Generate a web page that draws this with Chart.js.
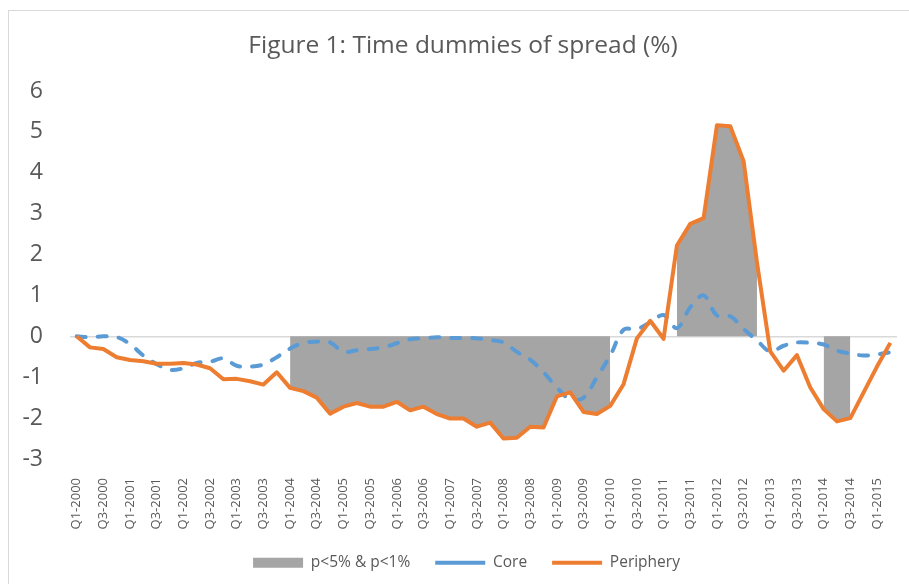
<!DOCTYPE html>
<html>
<head>
<meta charset="utf-8">
<title>Figure 1: Time dummies of spread (%)</title>
<script src="https://cdn.jsdelivr.net/npm/chart.js@4.4.1/dist/chart.umd.min.js"></script>
<style>
  html, body { margin: 0; padding: 0; background: #fff; overflow: hidden; }
  #wrap { position: relative; width: 909px; height: 584px; }
  #frame { position: absolute; left: 8px; top: 10px; width: 1000px; height: 1000px;
           border-left: 1px solid #d9d9d9; border-top: 1px solid #d9d9d9; pointer-events: none; }
</style>
</head>
<body>
<div id="wrap">
  <canvas id="chartSpread" width="909" height="584"></canvas>
  <div id="frame"></div>
</div>
<script>
// quarters Q1-2000 .. Q2-2015
const quarters = [
  'Q1-2000','Q2-2000','Q3-2000','Q4-2000','Q1-2001','Q2-2001','Q3-2001','Q4-2001',
  'Q1-2002','Q2-2002','Q3-2002','Q4-2002','Q1-2003','Q2-2003','Q3-2003','Q4-2003',
  'Q1-2004','Q2-2004','Q3-2004','Q4-2004','Q1-2005','Q2-2005','Q3-2005','Q4-2005',
  'Q1-2006','Q2-2006','Q3-2006','Q4-2006','Q1-2007','Q2-2007','Q3-2007','Q4-2007',
  'Q1-2008','Q2-2008','Q3-2008','Q4-2008','Q1-2009','Q2-2009','Q3-2009','Q4-2009',
  'Q1-2010','Q2-2010','Q3-2010','Q4-2010','Q1-2011','Q2-2011','Q3-2011','Q4-2011',
  'Q1-2012','Q2-2012','Q3-2012','Q4-2012','Q1-2013','Q2-2013','Q3-2013','Q4-2013',
  'Q1-2014','Q2-2014','Q3-2014','Q4-2014','Q1-2015','Q2-2015'
];

const core = [
  0, -0.02, 0, -0.02, -0.19, -0.47, -0.68, -0.82,
  -0.78, -0.65, -0.62, -0.54, -0.72, -0.74, -0.69, -0.51,
  -0.30, -0.16, -0.13, -0.15, -0.38, -0.34, -0.31, -0.27,
  -0.17, -0.07, -0.05, -0.02, -0.04, -0.04, -0.05, -0.09,
  -0.15, -0.38, -0.57, -0.88, -1.25, -1.54, -1.50, -1.00,
  -0.47, 0.16, 0.18, 0.34, 0.52, 0.20, 0.71, 1.00,
  0.51, 0.49, 0.18, -0.10, -0.37, -0.23, -0.15, -0.16,
  -0.20, -0.35, -0.42, -0.47, -0.44, -0.39
];

const periphery = [
  0, -0.27, -0.31, -0.51, -0.58, -0.61, -0.67, -0.67,
  -0.65, -0.69, -0.78, -1.05, -1.04, -1.10, -1.18, -0.88,
  -1.26, -1.34, -1.50, -1.89, -1.72, -1.63, -1.72, -1.72,
  -1.60, -1.81, -1.72, -1.90, -2.01, -2.01, -2.21, -2.11,
  -2.50, -2.48, -2.21, -2.23, -1.47, -1.37, -1.85, -1.90,
  -1.70, -1.17, -0.05, 0.38, -0.06, 2.22, 2.75, 2.89,
  5.16, 5.14, 4.28, 1.81, -0.37, -0.84, -0.46, -1.25,
  -1.78, -2.08, -2.00, -1.37, -0.74, -0.16
];

// significant quarters (p<5% & p<1%), null where not shaded
const significant = [
  null, null, null, null, null, null, null, null,
  null, null, null, null, null, null, null, null,
  -1.26, -1.34, -1.50, -1.89, -1.72, -1.63, -1.72, -1.72,
  -1.60, -1.81, -1.72, -1.90, -2.01, -2.01, -2.21, -2.11,
  -2.50, -2.48, -2.21, -2.23, -1.47, -1.37, -1.85, -1.90,
  -1.70, null, null, null, null, 2.22, 2.75, 2.89,
  5.16, 5.14, 4.28, 1.81, null, null, null, null,
  -1.78, -2.08, -2.00, null, null, null
];

const yTicks = [-3, -2, -1, 0, 1, 2, 3, 4, 5, 6];

const txtColor = '#595959';
const fontFam = '"Open Sans", "Liberation Sans", sans-serif';

// título e legenda centrados como no original (gráfico recortado à direita)
const blockShift = {
  id: 'blockShift',
  afterLayout(chart) {
    chart.legend.left += 18;
    chart.legend.right += 18;
    chart.titleBlock.left += 14.5;
    chart.titleBlock.right += 14.5;
  }
};

const el = document.getElementById('chartSpread');
new Chart(el, {
  type: 'line',
  data: {
    labels: quarters,
    datasets: [
      {
        label: 'p<5% & p<1%',
        data: significant,
        backgroundColor: '#a5a5a5',
        borderColor: '#a5a5a5',
        borderWidth: 0,
        pointRadius: 0,
        fill: 'origin',
        spanGaps: false,
        tension: 0,
        pointStyle: 'rect',
        order: 2
      },
      {
        label: 'Core',
        data: core,
        borderColor: '#5b9bd5',
        backgroundColor: '#5b9bd5',
        borderWidth: 4,
        borderDash: [9, 12],
        borderCapStyle: 'round',
        pointRadius: 0,
        fill: false,
        tension: 0.35,
        pointStyle: 'line',
        order: 1
      },
      {
        label: 'Periphery',
        data: periphery,
        borderColor: '#ed7d31',
        backgroundColor: '#ed7d31',
        borderWidth: 4,
        borderJoinStyle: 'round',
        pointRadius: 0,
        fill: false,
        tension: 0,
        pointStyle: 'line',
        order: 0
      }
    ]
  },
  options: {
    responsive: false,
    animation: false,
    devicePixelRatio: 1,
    layout: { padding: { left: 0, right: 12, top: 0, bottom: 3.5 } },
    plugins: {
      title: {
        display: true,
        text: 'Figure 1: Time dummies of spread (%)',
        color: txtColor,
        font: { family: fontFam, size: 24.5, weight: 'normal' },
        padding: { top: 31.3, bottom: 30.3 }
      },
      legend: {
        position: 'bottom',
        labels: {
          sort: (a, b) => a.datasetIndex - b.datasetIndex,
          usePointStyle: true,
          pointStyleWidth: 50,
          boxHeight: 10,
          padding: 25,
          color: txtColor,
          font: { family: fontFam, size: 15.5 }
        }
      },
      tooltip: { enabled: false }
    },
    scales: {
      x: {
        offset: true,
        grid: { display: false },
        border: { display: false },
        afterFit: (scale) => {
          scale.height = 71;
          scale.paddingLeft = 0;
          scale.paddingRight = 0;
        },
        ticks: {
          autoSkip: false,
          maxRotation: 90,
          minRotation: 90,
          padding: 11,
          color: txtColor,
          font: { family: fontFam, size: 13 },
          callback: (v, i) => (i % 2 === 0 ? quarters[i] : '')
        }
      },
      y: {
        min: yTicks[0],
        max: yTicks[yTicks.length - 1],
        afterFit: (scale) => { scale.width = 70; },
        afterBuildTicks: (scale) => { scale.ticks = yTicks.map(v => ({ value: v })); },
        border: { display: false },
        grid: {
          drawTicks: false,
          lineWidth: 1.5,
          color: (ctx) => (ctx.tick && ctx.tick.value === 0 ? '#d9d9d9' : 'rgba(0,0,0,0)')
        },
        ticks: {
          padding: 27,
          color: txtColor,
          font: { family: fontFam, size: 23 }
        }
      }
    }
  },
  plugins: [blockShift]
});
</script>
</body>
</html>
